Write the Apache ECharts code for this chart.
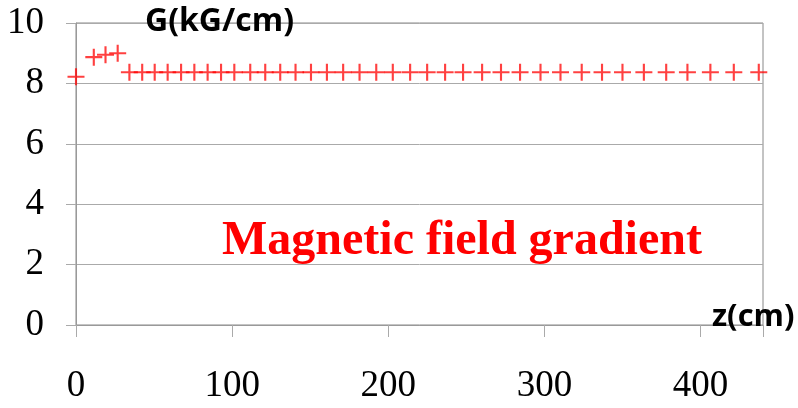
<!DOCTYPE html>
<html>
<head>
    <meta charset="utf-8">
    <title>Magnetic field gradient</title>
    <script src="https://cdn.jsdelivr.net/npm/echarts@6/dist/echarts.min.js"></script>
</head>
<body style="margin:0">
<div id="main" style="width:798px;height:408px;"></div>
<script type="text/javascript">
    // z positions (cm) and gradient G (kG/cm)
    var zPos = [0, 11.4, 18.9, 26.7, 34.2, 42.4, 50.4, 58.7, 67.3, 75.8, 84.3, 92.9,
        101.4, 111.6, 121.2, 130.8, 140.6, 150.5, 160.7, 171.1, 181.6, 192.3, 202.9,
        214, 224.9, 236.4, 247.9, 260.1, 272.2, 284.4, 297.5, 310.3, 323.9, 336.9,
        350, 363.7, 378, 391.6, 406.3, 421.3, 437.3];
    var gradient = [8.22, 8.87, 8.95, 9.0, 8.37, 8.37, 8.37, 8.37, 8.37, 8.37, 8.37, 8.37,
        8.37, 8.37, 8.37, 8.37, 8.37, 8.37, 8.37, 8.37, 8.37, 8.37, 8.37,
        8.37, 8.37, 8.37, 8.37, 8.37, 8.37, 8.37, 8.37, 8.37, 8.37, 8.37,
        8.37, 8.37, 8.37, 8.37, 8.37, 8.37, 8.37];
    var xTicks = [0, 100, 200, 300, 400];
    var yTicks = [0, 2, 4, 6, 8, 10];

    var points = [];
    for (var i = 0; i < zPos.length; i++) {
        points.push([zPos[i], gradient[i]]);
    }

    // plus marker
    var plus = 'path://M-8,-1L-1,-1L-1,-8L1,-8L1,-1L8,-1L8,1L1,1L1,8L-1,8L-1,1L-8,1Z';
    var serif = "'Liberation Serif', 'Times New Roman', serif";
    var sans = "'Open Sans', 'Noto Sans', sans-serif";

    var myChart = echarts.init(document.getElementById('main'));
    var option = {
        backgroundColor: '#ffffff',
        animation: false,
        grid: {
            left: 76, right: 35, top: 23, bottom: 83,
            show: true, borderColor: '#888888', borderWidth: 1
        },
        xAxis: {
            type: 'value',
            min: xTicks[0],
            max: 440,
            interval: xTicks[1] - xTicks[0],
            axisLine: {show: true, lineStyle: {color: '#999999'}},
            axisTick: {show: true, inside: false, length: 12, lineStyle: {color: '#aaaaaa'}},
            splitLine: {show: false},
            axisLabel: {
                margin: 43, color: '#000', fontFamily: serif, fontSize: 37,
                formatter: function (v) { return xTicks.indexOf(v) >= 0 ? String(v) : ''; }
            }
        },
        yAxis: {
            type: 'value',
            min: yTicks[0],
            max: yTicks[yTicks.length - 1],
            interval: yTicks[1] - yTicks[0],
            axisLine: {show: true, lineStyle: {color: '#999999'}},
            axisTick: {show: true, length: 10, lineStyle: {color: '#aaaaaa'}},
            splitLine: {show: true, lineStyle: {color: '#aaaaaa'}},
            axisLabel: {margin: 32, color: '#000', fontFamily: serif, fontSize: 37}
        },
        graphic: [
            {type: 'text', left: 145, top: 6, z: 100,
                style: {text: 'G(kG/cm)', fill: '#000', font: 'bold 32px ' + sans}},
            {type: 'text', left: 712, top: 302, z: 100,
                style: {text: 'z(cm)', fill: '#000', font: 'bold 31px ' + sans}},
            {type: 'text', left: 222, top: 218, z: 100,
                style: {text: 'Magnetic field gradient', fill: '#ff0000', font: 'bold 48px ' + serif}}
        ],
        series: [{
            name: 'G',
            type: 'scatter',
            clip: false,
            symbol: plus,
            symbolSize: 17,
            itemStyle: {color: '#ff0000', opacity: 0.75},
            data: points
        }]
    };
    myChart.setOption(option);
</script>
</body>
</html>
